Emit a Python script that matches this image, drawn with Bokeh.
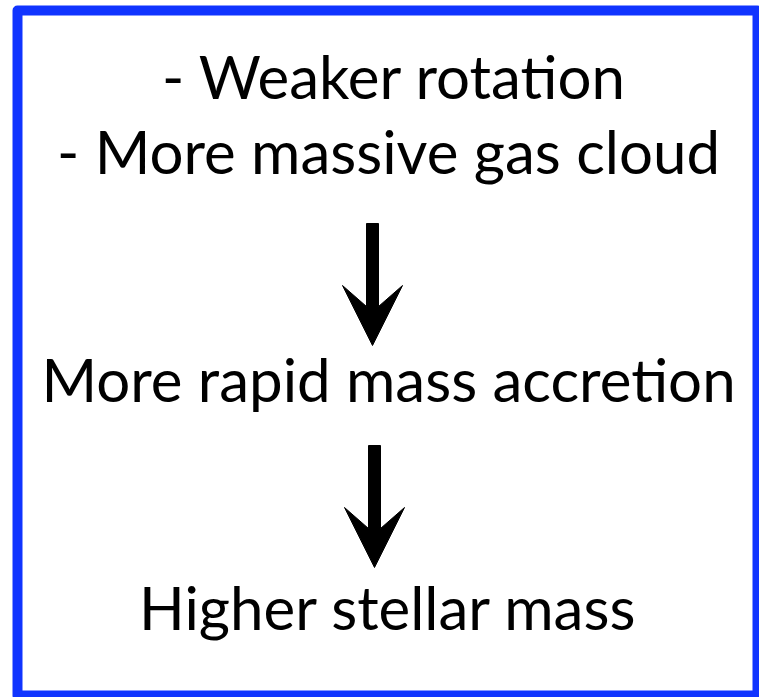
from bokeh.plotting import figure
from bokeh.models import Range1d, ColumnDataSource
from bokeh.core.properties import value
from bokeh.embed import file_html
from bokeh.resources import INLINE

# ---- content ----
labels = [
    "- Weaker rotation",
    "- More massive gas cloud",
    "More rapid mass accretion",
    "Higher stellar mass",
]

# ---- layout (page pixel coordinates, y downward) ----
W, H = 759, 697
label_x = [394, 388, 388, 388]
label_y = [75, 150, 378, 606]
arrow_cx = [372, 374]
arrow_top = [223, 445]
arrow_tip = [345, 567]

p = figure(width=W, height=H, output_backend="svg", toolbar_location=None,
           x_range=Range1d(0, W), y_range=Range1d(H, 0),
           min_border=0, outline_line_color=None, background_fill_color="white")
p.axis.visible = False
p.grid.visible = False

# border box
p.quad(left=[17], right=[757], top=[10], bottom=[695], fill_color=None,
       line_color="#1034FF", line_width=10, line_join="round")

# arrows
for cx, top, tip in zip(arrow_cx, arrow_top, arrow_tip):
    hw = 6      # half shaft width
    ww = 30     # half head width
    wing_y = tip - 60
    notch_y = tip - 39
    xs = [cx - hw, cx - hw, cx - ww, cx, cx + ww, cx + hw, cx + hw]
    ys = [top, notch_y, wing_y, tip, wing_y, notch_y, top]
    p.patch(xs, ys, fill_color="black", line_color="black", line_width=1)

src = ColumnDataSource(dict(x=label_x, y=label_y, t=labels))
p.text(x="x", y="y", text="t", source=src, text_font=value("Lato"),
       text_font_size="60px", text_align="center", text_baseline="alphabetic",
       text_color="black")

open("out.html", "w").write(file_html(p, INLINE))
